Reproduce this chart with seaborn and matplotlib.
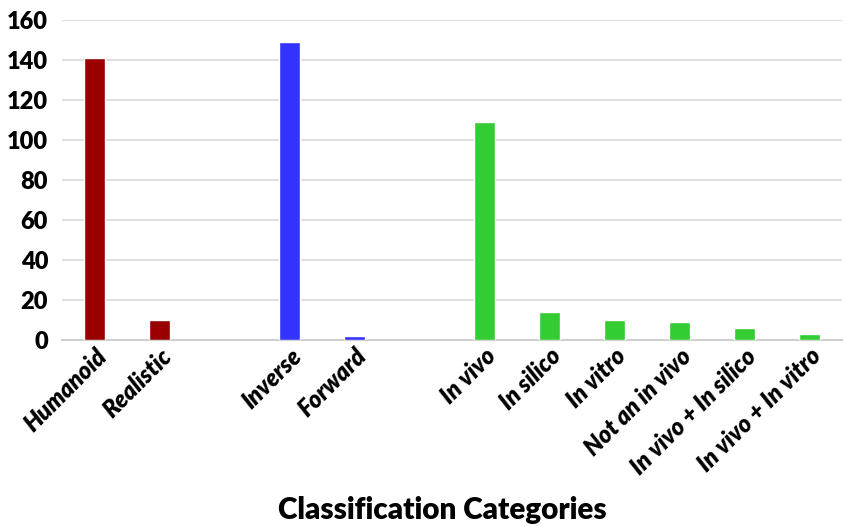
import matplotlib
matplotlib.use("Agg")
import matplotlib.pyplot as plt
import seaborn as sns
import pandas as pd

categories = ["Humanoid", "Realistic", "Inverse", "Forward",
              "In vivo", "In silico", "In vitro", "Not an in vivo",
              "In vivo + In silico", "In vivo + In vitro"]
counts = [141, 10, 149, 2, 109, 14, 10, 9, 6, 3]
groups = ["Model", "Model", "Kinematics", "Kinematics",
          "Study", "Study", "Study", "Study", "Study", "Study"]
group_colors = {"Model": "#990000", "Kinematics": "#3333FF", "Study": "#33CC33"}

# empty slots separate the three groups along the x axis
order = ["Humanoid", "Realistic", " ", "Inverse", "Forward", "  ",
         "In vivo", "In silico", "In vitro", "Not an in vivo",
         "In vivo + In silico", "In vivo + In vitro"]

df = pd.DataFrame({"category": categories, "count": counts, "group": groups})

sns.set_theme(style="white")
plt.rcParams["font.family"] = ["Lato", "DejaVu Sans"]
plt.rcParams["text.color"] = "black"
plt.rcParams["xtick.color"] = "black"
plt.rcParams["ytick.color"] = "black"
plt.rcParams["axes.labelcolor"] = "black"

fig = plt.figure(figsize=(8.46, 5.27), dpi=100)
ax = fig.add_axes([62 / 846, 1 - 340 / 527, 780 / 846, 320 / 527])

sns.barplot(data=df, x="category", y="count", hue="group", order=order,
            palette=group_colors, dodge=False, width=0.32, saturation=1,
            legend=False, ax=ax, zorder=3)

ax.set_ylim(0, 160)
ax.set_yticks(range(0, 161, 20))
ax.grid(axis="y", color="#d9d9d9", linewidth=1.2, zorder=0)
ax.set_axisbelow(True)
for s in ["top", "right", "left"]:
    ax.spines[s].set_visible(False)
ax.spines["bottom"].set_color("#d0d0d0")
ax.spines["bottom"].set_linewidth(1.5)

ax.tick_params(axis="y", length=0, pad=10, labelsize=17, labelcolor="black")
ax.tick_params(axis="x", length=0, pad=3, labelcolor="black")
for t in ax.get_yticklabels():
    t.set_fontweight("heavy")
ax.set_xticks(range(len(order)))
ax.set_xticklabels(order, rotation=45, ha="right", rotation_mode="anchor",
                   fontsize=17, fontweight="heavy", fontstyle="italic")

ax.set_ylabel("")
ax.set_xlabel("Classification Categories", fontsize=21.3, fontweight="heavy",
              color="black")
ax.xaxis.set_label_coords(0.5 - 10 / 780, (340 - 510) / 320)
ax.xaxis.label.set_verticalalignment("center")

fig.savefig("out.png", dpi=100)
